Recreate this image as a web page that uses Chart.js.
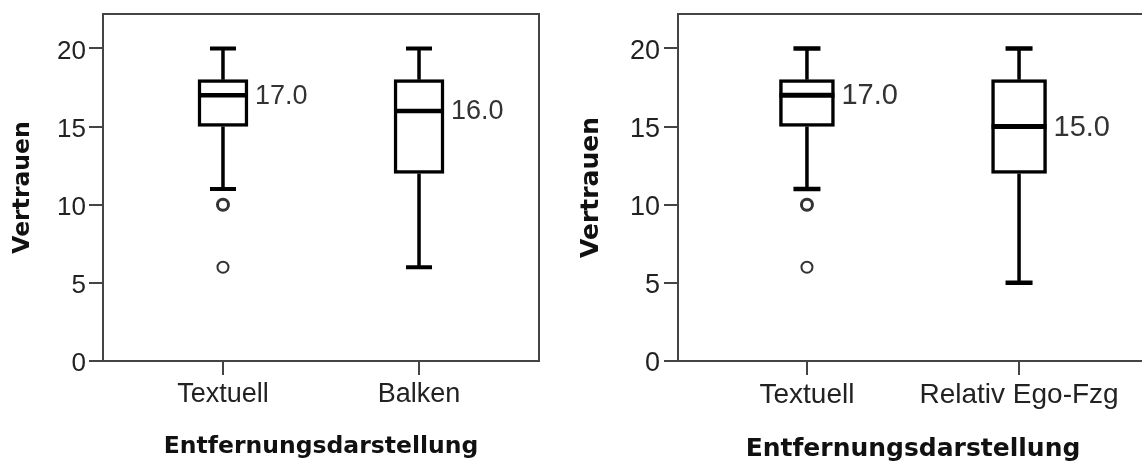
<!DOCTYPE html>
<html>
<head>
<meta charset="utf-8">
<script src="https://cdn.jsdelivr.net/npm/chart.js@4.4.1/dist/chart.umd.min.js"></script>
<style>
  html, body { margin: 0; padding: 0; background: #fff; overflow: hidden; }
  #wrap { position: relative; width: 1142px; height: 465px; overflow: hidden; }
  #left { position: absolute; left: 0; top: 0; }
  #right { position: absolute; left: 571px; top: 0; }
</style>
</head>
<body>
<div id="wrap">
  <canvas id="left" width="571" height="465"></canvas>
  <canvas id="right" width="589" height="465"></canvas>
</div>
<script>
// Vertrauen je Entfernungsdarstellung (zwei Boxplots)
const leftCategories = ['Textuell', 'Balken']
const rightCategories = ['Textuell', 'Relativ Ego-Fzg']

// [unterer Whisker, Q1, Median, Q3, oberer Whisker]
const textuellBox = [11, 15, 17, 18, 20]
const balkenBox = [6, 12, 16, 18, 20]
const egoBox = [5, 12, 15, 18, 20]

// Ausreisser (Textuell), mit Anzahl der Faelle pro Wert
const textuellOutliers = [10, 6]
const textuellOutlierCount = [2, 1]

const yTicks = [0, 5, 10, 15, 20]
const yMax = 22.2

const textFont = "'Liberation Sans', Arial, sans-serif"
const titleFont = "'DejaVu Sans', Verdana, sans-serif"
const axisColor = '#444'

function makeExtras(boxes, st) {
  return {
    id: 'boxExtras',
    afterDatasetsDraw(chart) {
      const ctx = chart.ctx
      const xs = chart.scales.x
      const ys = chart.scales.y
      boxes.forEach((b, i) => {
        const cx = xs.getPixelForValue(i)
        const half = st.boxWidth / 2
        ctx.save()
        ctx.strokeStyle = '#000'
        ctx.lineWidth = st.line
        ctx.beginPath()
        ctx.moveTo(cx, ys.getPixelForValue(b[3]))
        ctx.lineTo(cx, ys.getPixelForValue(b[4]))
        ctx.moveTo(cx, ys.getPixelForValue(b[1]))
        ctx.lineTo(cx, ys.getPixelForValue(b[0]))
        ctx.stroke()

        // whisker caps
        ctx.lineWidth = st.cap
        ctx.beginPath()
        ctx.moveTo(cx - st.capLen / 2, ys.getPixelForValue(b[4]))
        ctx.lineTo(cx + st.capLen / 2, ys.getPixelForValue(b[4]))
        ctx.moveTo(cx - st.capLen / 2, ys.getPixelForValue(b[0]))
        ctx.lineTo(cx + st.capLen / 2, ys.getPixelForValue(b[0]))
        ctx.stroke()

        // median
        const my = ys.getPixelForValue(b[2])
        ctx.lineWidth = st.median
        ctx.beginPath()
        ctx.moveTo(cx - half, my)
        ctx.lineTo(cx + half, my)
        ctx.stroke()

        ctx.fillStyle = '#333'
        ctx.font = st.labelSize + 'px ' + textFont
        ctx.textAlign = 'left'
        ctx.textBaseline = 'middle'
        ctx.fillText(b[2].toFixed(1), cx + half + st.labelGap, my + 1)
        ctx.restore()
      })

      // frame top + right
      const a = chart.chartArea
      ctx.save()
      ctx.strokeStyle = axisColor
      ctx.lineWidth = 2
      ctx.beginPath()
      ctx.moveTo(a.left, a.top)
      ctx.lineTo(a.right, a.top)
      ctx.lineTo(a.right, a.bottom)
      ctx.stroke()
      ctx.restore()
    }
  }
}

function makeChart(id, cats, boxes, outliers, counts, st) {
  const boxData = boxes.map((b, i) => ({ x: i, y: [b[1], b[3]] }))
  const outData = []
  const outWidth = []
  outliers.forEach((list, i) => {
    list.forEach((v, k) => {
      outData.push({ x: i, y: v })
      outWidth.push(counts[i][k] > 1 ? 3 : 2)
    })
  })

  return new Chart(document.getElementById(id), {
    type: 'bar',
    data: {
      datasets: [{
        data: boxData,
        backgroundColor: '#fff',
        borderColor: '#000',
        borderWidth: st.line,
        borderSkipped: false,
        barThickness: st.boxWidth
      }, {
        type: 'scatter',
        data: outData,
        pointStyle: 'circle',
        pointRadius: 5.5,
        pointBorderWidth: outWidth,
        pointBorderColor: '#333',
        pointBackgroundColor: '#fff'
      }]
    },
    options: {
      responsive: false,
      animation: false,
      events: [],
      layout: { padding: { left: 0, top: 14, right: st.padRight, bottom: 0 } },
      plugins: { legend: { display: false }, tooltip: { enabled: false } },
      scales: {
        x: {
          type: 'linear',
          min: -st.side,
          max: cats.length - 1 + st.side,
          offset: false,
          afterBuildTicks: s => { s.ticks = cats.map((c, i) => ({ value: i })) },
          ticks: {
            callback: v => cats[Math.round(v)],
            font: { family: textFont, size: st.catSize },
            color: '#222',
            padding: 3,
            autoSkip: false,
            maxRotation: 0
          },
          grid: { offset: false, drawOnChartArea: false, tickLength: 14, tickColor: axisColor, lineWidth: 2 },
          border: { color: axisColor, width: 2 },
          title: {
            display: true,
            text: 'Entfernungsdarstellung',
            font: { family: titleFont, weight: 'bold', size: st.titleSize },
            color: '#111',
            padding: { top: 0, bottom: st.xTitlePad }
          },
          afterFit: s => {
            s.height = 465 - 361
            s.paddingLeft = 0
            s.paddingRight = 0
          }
        },
        y: {
          min: 0,
          max: yMax,
          afterBuildTicks: s => { s.ticks = yTicks.map(v => ({ value: v })) },
          ticks: {
            font: { family: textFont, size: st.tickSize },
            color: '#222',
            padding: st.tickPad,
            labelOffset: 3
          },
          grid: { drawOnChartArea: false, tickLength: 14, tickColor: axisColor, lineWidth: 2 },
          border: { color: axisColor, width: 2 },
          title: {
            display: true,
            text: 'Vertrauen',
            font: { family: titleFont, weight: 'bold', size: st.titleSize },
            color: '#111',
            padding: { top: st.yTitlePad, bottom: 0 }
          },
          afterFit: s => {
            s.width = st.axisLeft
            s.paddingTop = 0
            s.paddingBottom = 0
          }
        }
      }
    },
    plugins: [makeExtras(boxes, st)]
  })
}

makeChart('left', leftCategories, [textuellBox, balkenBox],
  [textuellOutliers, []], [textuellOutlierCount, []], {
    axisLeft: 103, padRight: 32, side: 0.612,
    boxWidth: 50, capLen: 26, line: 3.5, cap: 4, median: 4.5,
    labelSize: 27, labelGap: 7, catSize: 27, tickSize: 26, tickPad: 3,
    titleSize: 23.5, xTitlePad: 4.5, yTitlePad: 9
  })

makeChart('right', rightCategories, [textuellBox, egoBox],
  [textuellOutliers, []], [textuellOutlierCount, []], {
    axisLeft: 107, padRight: 12, side: 0.608,
    boxWidth: 55, capLen: 27, line: 3.5, cap: 4.5, median: 5,
    labelSize: 29, labelGap: 7, catSize: 28, tickSize: 27, tickPad: 4,
    titleSize: 25, xTitlePad: 1, yTitlePad: 5.5
  })
</script>
</body>
</html>
